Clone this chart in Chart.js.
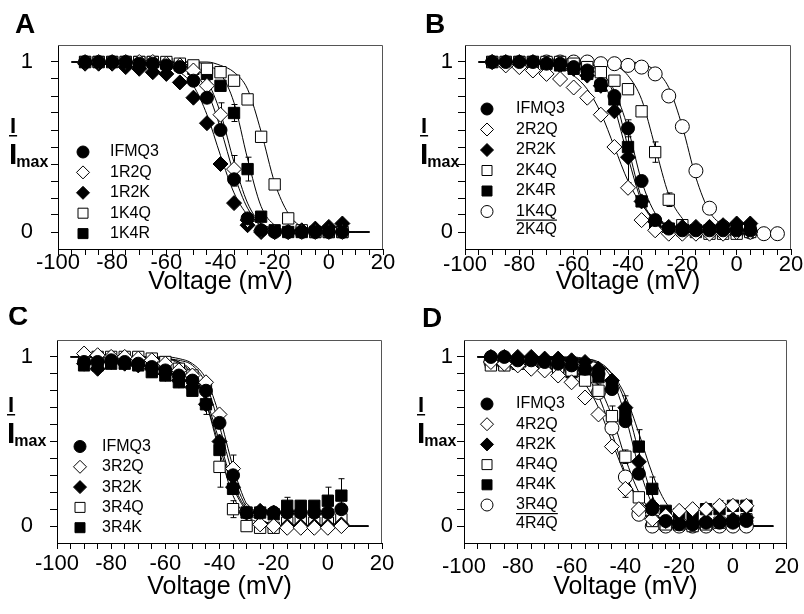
<!DOCTYPE html>
<html>
<head>
<meta charset="utf-8">
<script src="https://cdn.jsdelivr.net/npm/chart.js@4.4.0/dist/chart.umd.min.js"></script>
<style>
  body { margin: 0; background: #fff; }
  #wrap { position: relative; width: 804px; height: 614px; background: #fff; }
  canvas { position: absolute; }
</style>
</head>
<body>
<div id="wrap">
  <canvas id="chartA" width="402" height="307" style="left:0;top:0"></canvas>
  <canvas id="chartB" width="402" height="307" style="left:402px;top:0"></canvas>
  <canvas id="chartC" width="402" height="307" style="left:0;top:307px"></canvas>
  <canvas id="chartD" width="402" height="307" style="left:402px;top:307px"></canvas>
</div>
<script>
// voltage steps of the measured points and of the fitted curves (mV)
const V = [-90, -85, -80, -75, -70, -65, -60, -55, -50, -45, -40, -35, -30, -25, -20, -15, -10, -5, 0, 5];
const FIT_V = [-95, -90, -85, -80, -75, -70, -65, -60, -55, -50, -45, -40, -35, -30, -25, -20, -15, -10, -5, 0, 5, 10, 15];
const B_RATIO_V = [-70, -65, -60, -55, -50, -45, -40, -35, -30, -25, -20, -15, -10, -5, 0, 5, 10, 15];

// panel A
const A_IFMQ3 = [1.0, 1.0, 1.0, 1.0, 0.99, 0.99, 0.98, 0.97, 0.89, 0.79, 0.60, 0.31, 0.08, 0.01, 0.0, 0.0, 0.0, 0.0, 0.0, 0.0];
const A_1R2Q = [1.0, 1.0, 1.0, 1.0, 1.0, 1.0, 0.99, 0.98, 0.95, 0.86, 0.69, 0.37, 0.07, 0.01, 0.0, 0.0, 0.0, 0.0, 0.0, 0.0];
const A_1R2K = [0.99, 0.99, 0.99, 0.97, 0.96, 0.94, 0.93, 0.88, 0.79, 0.64, 0.40, 0.17, 0.04, 0.0, 0.0, 0.0, 0.01, 0.02, 0.03, 0.05];
const A_1K4Q = [1.0, 1.0, 1.0, 1.0, 1.0, 1.0, 1.0, 0.99, 0.98, 0.96, 0.94, 0.89, 0.78, 0.56, 0.28, 0.08, 0.01, 0.0, 0.0, 0.0];
const A_1K4R = [1.0, 1.0, 1.0, 1.0, 1.0, 1.0, 0.99, 0.98, 0.96, 0.93, 0.86, 0.70, 0.37, 0.09, 0.01, 0.0, 0.0, 0.0, 0.0, 0.0];
const A_IFMQ3_ERR = [0, 0, 0, 0, 0, 0, 0, 0, 0, 0, 0, 0.04, 0, 0, 0, 0, 0, 0, 0, 0];
const A_1R2Q_ERR = [0, 0, 0, 0, 0, 0, 0, 0, 0, 0.03, 0.07, 0.08, 0, 0, 0, 0, 0, 0, 0, 0];
const A_1K4R_ERR = [0, 0, 0, 0, 0, 0, 0, 0, 0, 0, 0, 0.05, 0.07, 0, 0, 0, 0, 0, 0, 0];
const A_FIT_IFMQ3 = [1, 1, 1, 1, 1, 1, 1, 1, 0.98, 0.94, 0.83, 0.61, 0.34, 0.14, 0.05, 0.02, 0.01, 0, 0, 0, 0, 0, 0];
const A_FIT_1R2Q = [1, 1, 1, 1, 1, 1, 1, 1, 0.99, 0.97, 0.89, 0.70, 0.41, 0.17, 0.05, 0.02, 0, 0, 0, 0, 0, 0, 0];
const A_FIT_1R2K = [1, 1, 1, 1, 1, 0.99, 0.99, 0.98, 0.94, 0.86, 0.69, 0.45, 0.23, 0.10, 0.04, 0.01, 0, 0, 0, 0, 0, 0, 0];
const A_FIT_1K4Q = [1, 1, 1, 1, 1, 1, 1, 1, 1, 1, 1, 0.98, 0.94, 0.84, 0.59, 0.29, 0.11, 0.03, 0.01, 0, 0, 0, 0];
const A_FIT_1K4R = [1, 1, 1, 1, 1, 1, 1, 1, 1, 1, 0.98, 0.93, 0.76, 0.43, 0.15, 0.04, 0.01, 0, 0, 0, 0, 0, 0];

// panel B
const B_IFMQ3 = [1.0, 1.0, 1.0, 1.0, 0.99, 0.99, 0.97, 0.95, 0.87, 0.80, 0.61, 0.30, 0.07, 0.02, 0.01, 0.01, 0.01, 0.01, 0.01, 0.01];
const B_2R2Q = [1.0, 0.98, 0.97, 0.95, 0.93, 0.90, 0.85, 0.79, 0.69, 0.50, 0.26, 0.07, 0.01, -0.01, -0.01, -0.01, -0.01, -0.01, 0.0, 0.0];
const B_2R2K = [1.0, 1.0, 1.0, 1.0, 0.99, 0.98, 0.96, 0.92, 0.86, 0.71, 0.44, 0.18, 0.06, 0.03, 0.03, 0.03, 0.03, 0.04, 0.05, 0.05];
const B_2K4Q = [1.0, 1.0, 1.0, 1.0, 1.0, 1.0, 0.99, 0.97, 0.94, 0.89, 0.84, 0.71, 0.47, 0.19, 0.04, 0.0, -0.01, -0.01, -0.01, 0.0];
const B_2K4R = [1.0, 1.0, 1.0, 1.0, 0.99, 0.98, 0.96, 0.93, 0.86, 0.78, 0.50, 0.18, 0.05, 0.02, 0.01, 0.01, 0.01, 0.01, 0.01, 0.01];
const B_RATIO = [1.0, 1.0, 1.0, 1.0, 0.99, 0.99, 0.98, 0.97, 0.93, 0.80, 0.62, 0.36, 0.14, 0.03, 0.0, 0.0, -0.01, -0.01];
const B_IFMQ3_ERR = [0, 0, 0, 0, 0, 0, 0, 0, 0, 0, 0.05, 0.03, 0, 0, 0, 0, 0, 0, 0, 0];
const B_2R2K_ERR = [0, 0, 0, 0, 0, 0, 0, 0, 0, 0, 0.15, 0, 0, 0, 0, 0, 0, 0, 0, 0];
const B_2K4Q_ERR = [0, 0, 0, 0, 0, 0, 0, 0, 0, 0, 0, 0, 0.06, 0.04, 0, 0, 0, 0, 0, 0];
const B_FIT_IFMQ3 = [1, 1, 1, 1, 1, 1, 1, 0.99, 0.98, 0.94, 0.83, 0.61, 0.30, 0.11, 0.03, 0.01, 0, 0, 0, 0, 0, 0, 0];
const B_FIT_2R2Q = [1, 1, 1, 1, 0.99, 0.985, 0.97, 0.92, 0.84, 0.70, 0.50, 0.30, 0.16, 0.08, 0.03, 0.01, 0, 0, 0, 0, 0, 0, 0];
const B_FIT_2R2K = [1, 1, 1, 1, 1, 1, 1, 0.99, 0.97, 0.90, 0.73, 0.44, 0.18, 0.06, 0.02, 0, 0, 0, 0, 0, 0, 0, 0];
const B_FIT_2K4Q = [1, 1, 1, 1, 1, 1, 1, 1, 1, 0.99, 0.98, 0.92, 0.78, 0.50, 0.22, 0.08, 0.02, 0.01, 0, 0, 0, 0, 0];
const B_FIT_2K4R = [1, 1, 1, 1, 1, 1, 1, 1, 0.99, 0.95, 0.80, 0.50, 0.20, 0.06, 0.01, 0, 0, 0, 0, 0, 0, 0, 0];
const B_FIT_RATIO = [1, 1, 1, 1, 1, 1, 1, 1, 1, 1, 1, 1, 0.99, 0.95, 0.85, 0.62, 0.32, 0.12, 0.04, 0.01, 0, 0, 0];

// panel C
const C_IFMQ3 = [0.97, 0.97, 0.98, 0.97, 0.96, 0.94, 0.92, 0.89, 0.86, 0.80, 0.61, 0.30, 0.08, 0.08, 0.08, 0.08, 0.08, 0.08, 0.08, 0.10];
const C_3R2Q = [1.02, 1.01, 1.0, 1.0, 0.99, 0.98, 0.96, 0.92, 0.89, 0.85, 0.66, 0.34, 0.09, 0.01, 0.0, -0.01, -0.01, -0.01, -0.01, 0.0];
const C_3R2K = [0.96, 0.93, 0.97, 0.96, 0.95, 0.93, 0.90, 0.86, 0.82, 0.72, 0.50, 0.23, 0.08, 0.09, 0.08, 0.0, 0.0, 0.0, 0.0, 0.01];
const C_3R4Q = [0.99, 1.0, 1.0, 1.0, 1.0, 0.99, 0.97, 0.93, 0.89, 0.82, 0.35, 0.10, 0.0, -0.01, -0.01, 0.02, 0.03, 0.02, 0.02, 0.04];
const C_3R4K = [0.95, 0.95, 0.96, 0.96, 0.95, 0.91, 0.89, 0.85, 0.80, 0.72, 0.45, 0.22, 0.08, 0.08, 0.07, 0.12, 0.12, 0.12, 0.15, 0.18];
const C_3R2Q_ERR = [0, 0, 0, 0, 0, 0, 0, 0, 0, 0, 0, 0.08, 0, 0, 0, 0, 0, 0, 0, 0];
const C_3R2K_ERR = [0, 0, 0, 0, 0, 0, 0, 0, 0, 0.06, 0, 0, 0, 0, 0, 0, 0, 0, 0, 0];
const C_3R4Q_ERR = [0, 0, 0, 0, 0, 0, 0, 0, 0, 0, 0.12, 0.05, 0, 0, 0, 0, 0, 0, 0, 0];
const C_3R4K_ERR = [0, 0, 0, 0, 0, 0.03, 0, 0, 0, 0, 0, 0, 0, 0, 0, 0.05, 0.03, 0, 0.08, 0.10];
const C_FIT_IFMQ3 = [1, 1, 1, 1, 1, 1, 1, 0.99, 0.98, 0.95, 0.84, 0.59, 0.30, 0.11, 0.03, 0.01, 0, 0, 0, 0, 0, 0, 0];
const C_FIT_3R2Q = [1, 1, 1, 1, 1, 1, 1, 1, 0.99, 0.96, 0.87, 0.65, 0.35, 0.13, 0.04, 0.01, 0, 0, 0, 0, 0, 0, 0];
const C_FIT_3R2K = [1, 1, 1, 1, 1, 1, 0.99, 0.99, 0.97, 0.90, 0.75, 0.50, 0.25, 0.10, 0.04, 0.01, 0, 0, 0, 0, 0, 0, 0];
const C_FIT_3R4Q = [1, 1, 1, 1, 1, 1, 0.99, 0.99, 0.97, 0.91, 0.73, 0.44, 0.18, 0.06, 0.02, 0, 0, 0, 0, 0, 0, 0, 0];
const C_FIT_3R4K = [1, 1, 1, 1, 1, 1, 0.99, 0.99, 0.96, 0.89, 0.73, 0.47, 0.23, 0.09, 0.03, 0.01, 0, 0, 0, 0, 0, 0, 0];

// panel D
const D_IFMQ3 = [1.0, 1.0, 0.98, 0.98, 0.97, 0.96, 0.95, 0.93, 0.90, 0.81, 0.62, 0.31, 0.10, 0.03, 0.01, 0.01, 0.02, 0.02, 0.02, 0.03];
const D_4R2Q = [0.97, 0.96, 0.95, 0.93, 0.92, 0.89, 0.85, 0.76, 0.66, 0.47, 0.22, 0.10, 0.04, 0.06, 0.09, 0.10, 0.10, 0.12, 0.12, 0.12];
const D_4R2K = [1.0, 1.0, 1.0, 1.0, 0.99, 0.99, 0.98, 0.97, 0.93, 0.86, 0.70, 0.38, 0.12, 0.03, 0.02, 0.02, 0.03, 0.03, 0.04, 0.05];
const D_4R4Q = [0.95, 0.95, 0.96, 0.96, 0.95, 0.94, 0.92, 0.86, 0.80, 0.65, 0.41, 0.17, 0.03, 0.01, 0.01, 0.0, 0.01, 0.02, 0.03, 0.04];
const D_4R4K = [0.97, 0.96, 0.96, 0.96, 0.95, 0.93, 0.91, 0.89, 0.88, 0.83, 0.67, 0.47, 0.22, 0.09, 0.07, 0.07, 0.10, 0.10, 0.12, 0.12];
const D_RATIO = [0.97, 0.96, 0.96, 0.96, 0.95, 0.94, 0.93, 0.91, 0.79, 0.58, 0.29, 0.07, 0.0, 0.0, 0.0, 0.0, 0.0, 0.0, 0.0, 0.0];
const D_4R2Q_ERR = [0, 0, 0, 0, 0, 0, 0, 0, 0, 0, 0.05, 0, 0, 0, 0, 0, 0, 0.03, 0, 0];
const D_4R2K_ERR = [0, 0, 0, 0, 0, 0, 0, 0, 0, 0, 0.07, 0, 0, 0, 0, 0, 0, 0, 0, 0];
const D_4R4Q_ERR = [0, 0, 0, 0, 0, 0, 0, 0, 0.04, 0.06, 0.04, 0, 0, 0, 0, 0, 0, 0, 0, 0];
const D_4R4K_ERR = [0, 0, 0, 0, 0, 0, 0, 0, 0, 0, 0, 0.10, 0.07, 0, 0, 0, 0.03, 0.04, 0.03, 0.03];
const D_FIT_IFMQ3 = [1, 1, 1, 1, 1, 1, 1, 0.99, 0.99, 0.96, 0.87, 0.65, 0.35, 0.13, 0.04, 0.01, 0, 0, 0, 0, 0, 0, 0];
const D_FIT_4R2Q = [1, 1, 1, 1, 0.99, 0.98, 0.97, 0.92, 0.84, 0.70, 0.50, 0.30, 0.16, 0.08, 0.03, 0.01, 0, 0, 0, 0, 0, 0, 0];
const D_FIT_4R2K = [1, 1, 1, 1, 1, 1, 1, 1, 0.99, 0.97, 0.90, 0.73, 0.44, 0.18, 0.06, 0.02, 0, 0, 0, 0, 0, 0, 0];
const D_FIT_4R4Q = [1, 1, 1, 1, 1, 1, 0.99, 0.97, 0.93, 0.83, 0.65, 0.40, 0.20, 0.08, 0.03, 0.01, 0, 0, 0, 0, 0, 0, 0];
const D_FIT_4R4K = [1, 1, 1, 1, 1, 1, 1, 0.99, 0.98, 0.96, 0.90, 0.77, 0.55, 0.31, 0.14, 0.06, 0.02, 0.01, 0, 0, 0, 0, 0];
const D_FIT_RATIO = [1, 1, 1, 1, 1, 1, 0.99, 0.96, 0.90, 0.77, 0.55, 0.31, 0.14, 0.06, 0.02, 0.01, 0, 0, 0, 0, 0, 0, 0];

const FONT = '"Liberation Sans", Arial, sans-serif';

const MARKERS = {
    fCircle: { pointStyle: 'circle', radius: 6.5, fill: '#000' },
    oCircle: { pointStyle: 'circle', radius: 7, fill: '#fff' },
    fDiamond: { pointStyle: 'rectRot', radius: 7.5, fill: '#000' },
    oDiamond: { pointStyle: 'rectRot', radius: 7.5, fill: '#fff' },
    fSquare: { pointStyle: 'rect', radius: 8, fill: '#000' },
    oSquare: { pointStyle: 'rect', radius: 8, fill: '#fff' },
};

const PANELS = [
    {
        canvas: 'chartA', letter: 'A', letterX: 15, letterY: 33,
        padTop: 45, padRight: 19, yW: 58, xH: 58, xTickPad: -5, yTickPad: 18, titlePad: 10,
        ylab: { x: 10, y: 133 },
        legend: { mx: 83, tx: 110, y0: 152, dy: 20.4 },
        series: [
            { label: 'IFMQ3', marker: 'fCircle', x: V, y: A_IFMQ3, err: A_IFMQ3_ERR, fit: A_FIT_IFMQ3 },
            { label: '1R2Q', marker: 'oDiamond', x: V, y: A_1R2Q, err: A_1R2Q_ERR, fit: A_FIT_1R2Q },
            { label: '1R2K', marker: 'fDiamond', x: V, y: A_1R2K, fit: A_FIT_1R2K },
            { label: '1K4Q', marker: 'oSquare', x: V, y: A_1K4Q, fit: A_FIT_1K4Q },
            { label: '1K4R', marker: 'fSquare', x: V, y: A_1K4R, err: A_1K4R_ERR, fit: A_FIT_1K4R },
        ],
    },
    {
        canvas: 'chartB', letter: 'B', letterX: 23, letterY: 33,
        padTop: 45, padRight: 13, yW: 63, xH: 58, xTickPad: -3, yTickPad: 5, titlePad: 10,
        ylab: { x: 19, y: 133 },
        legend: { mx: 85, tx: 114, y0: 109, dy: 20.5 },
        series: [
            { label: 'IFMQ3', marker: 'fCircle', x: V, y: B_IFMQ3, err: B_IFMQ3_ERR, fit: B_FIT_IFMQ3 },
            { label: '2R2Q', marker: 'oDiamond', x: V, y: B_2R2Q, fit: B_FIT_2R2Q },
            { label: '2R2K', marker: 'fDiamond', x: V, y: B_2R2K, err: B_2R2K_ERR, fit: B_FIT_2R2K },
            { label: '2K4Q', marker: 'oSquare', x: V, y: B_2K4Q, err: B_2K4Q_ERR, fit: B_FIT_2K4Q },
            { label: '2K4R', marker: 'fSquare', x: V, y: B_2K4R, fit: B_FIT_2K4R },
            { label: ['1K4Q', '2K4Q'], marker: 'oCircle', x: B_RATIO_V, y: B_RATIO, fit: B_FIT_RATIO },
        ],
    },
    {
        canvas: 'chartC', letter: 'C', letterX: 8, letterY: 18,
        padTop: 33, padRight: 20, yW: 57, xH: 71, xTickPad: 2, yTickPad: 17, titlePad: 12,
        ylab: { x: 8, y: 105 },
        legend: { mx: 80, tx: 102, y0: 139.5, dy: 20.3 },
        series: [
            { label: 'IFMQ3', marker: 'fCircle', x: V, y: C_IFMQ3, fit: C_FIT_IFMQ3 },
            { label: '3R2Q', marker: 'oDiamond', x: V, y: C_3R2Q, err: C_3R2Q_ERR, fit: C_FIT_3R2Q },
            { label: '3R2K', marker: 'fDiamond', x: V, y: C_3R2K, err: C_3R2K_ERR, fit: C_FIT_3R2K },
            { label: '3R4Q', marker: 'oSquare', x: V, y: C_3R4Q, err: C_3R4Q_ERR, fit: C_FIT_3R4Q },
            { label: '3R4K', marker: 'fSquare', x: V, y: C_3R4K, err: C_3R4K_ERR, fit: C_FIT_3R4K },
        ],
    },
    {
        canvas: 'chartD', letter: 'D', letterX: 20, letterY: 20,
        padTop: 33, padRight: 15, yW: 62, xH: 71, xTickPad: 5, yTickPad: 4, titlePad: 12,
        ylab: { x: 16, y: 105 },
        legend: { mx: 85, tx: 114, y0: 97, dy: 20.2 },
        series: [
            { label: 'IFMQ3', marker: 'fCircle', x: V, y: D_IFMQ3, fit: D_FIT_IFMQ3 },
            { label: '4R2Q', marker: 'oDiamond', x: V, y: D_4R2Q, err: D_4R2Q_ERR, fit: D_FIT_4R2Q },
            { label: '4R2K', marker: 'fDiamond', x: V, y: D_4R2K, err: D_4R2K_ERR, fit: D_FIT_4R2K },
            { label: '4R4Q', marker: 'oSquare', x: V, y: D_4R4Q, err: D_4R4Q_ERR, fit: D_FIT_4R4Q },
            { label: '4R4K', marker: 'fSquare', x: V, y: D_4R4K, err: D_4R4K_ERR, fit: D_FIT_4R4K },
            { label: ['3R4Q', '4R4Q'], marker: 'oCircle', x: V, y: D_RATIO, fit: D_FIT_RATIO },
        ],
    },
];

function drawMarker(ctx, m, x, y, r) {
    ctx.beginPath();
    if (m.pointStyle === 'circle') {
        ctx.arc(x, y, r, 0, Math.PI * 2);
    } else if (m.pointStyle === 'rectRot') {
        ctx.moveTo(x, y - r); ctx.lineTo(x + r, y); ctx.lineTo(x, y + r); ctx.lineTo(x - r, y); ctx.closePath();
    } else {
        ctx.rect(x - r, y - r, 2 * r, 2 * r);
    }
    ctx.fillStyle = m.fill;
    ctx.fill();
    ctx.lineWidth = 1;
    ctx.strokeStyle = '#000';
    ctx.stroke();
}

const errorBars = {
    id: 'errorBars',
    beforeDatasetsDraw(chart) {
        const ctx = chart.ctx, xs = chart.scales.x, ys = chart.scales.y;
        ctx.save();
        ctx.strokeStyle = '#000';
        ctx.lineWidth = 1;
        chart.data.datasets.forEach(ds => {
            if (!ds.errors) return;
            ds.data.forEach((p, i) => {
                const e = ds.errors[i];
                if (!e) return;
                const px = Math.round(xs.getPixelForValue(p.x)) + 0.5;
                const top = ys.getPixelForValue(p.y + e), bot = ys.getPixelForValue(p.y - e);
                ctx.beginPath();
                ctx.moveTo(px, top); ctx.lineTo(px, bot);
                ctx.moveTo(px - 3, top); ctx.lineTo(px + 3, top);
                ctx.moveTo(px - 3, bot); ctx.lineTo(px + 3, bot);
                ctx.stroke();
            });
        });
        ctx.restore();
    }
};

function decor(p) {
    return {
        id: 'decor',
        afterDraw(chart) {
            const ctx = chart.ctx, a = chart.chartArea;
            ctx.save();
            // frame top and right
            ctx.strokeStyle = '#555';
            ctx.lineWidth = 1;
            ctx.beginPath();
            ctx.moveTo(a.left, Math.round(a.top) + 0.5);
            ctx.lineTo(Math.round(a.right) - 0.5, Math.round(a.top) + 0.5);
            ctx.lineTo(Math.round(a.right) - 0.5, a.bottom);
            ctx.stroke();

            ctx.fillStyle = '#000';
            // panel letter
            ctx.font = 'bold 28px ' + FONT;
            ctx.textBaseline = 'alphabetic';
            ctx.textAlign = 'left';
            ctx.fillText(p.letter, p.letterX, p.letterY);

            // y label: I over I_max
            const yl = p.ylab;
            ctx.font = 'bold 22px ' + FONT;
            ctx.fillText('I', yl.x, yl.y);
            const w1 = ctx.measureText('I').width;
            ctx.fillRect(yl.x - 1, yl.y + 2, w1 + 2, 1.5);
            ctx.font = 'bold 30px ' + FONT;
            ctx.fillText('I', yl.x - 1, yl.y + 31);
            const w2 = ctx.measureText('I').width;
            ctx.font = 'bold 16px ' + FONT;
            ctx.fillText('max', yl.x - 1 + w2 - 1, yl.y + 34);

            // legend
            const lg = p.legend;
            ctx.font = '16px ' + FONT;
            ctx.textBaseline = 'middle';
            p.series.forEach((s, i) => {
                const y = lg.y0 + i * lg.dy;
                const m = MARKERS[s.marker];
                drawMarker(ctx, m, lg.mx, y, m.pointStyle === 'rect' ? 5 : m.pointStyle === 'rectRot' ? 6.5 : 6);
                ctx.fillStyle = '#000';
                if (Array.isArray(s.label)) {
                    ctx.fillText(s.label[0], lg.tx, y);
                    const w = ctx.measureText(s.label[0]).width;
                    ctx.fillRect(lg.tx, y + 8, w, 1.2);
                    ctx.fillText(s.label[1], lg.tx, y + 18.5);
                } else {
                    ctx.fillText(s.label, lg.tx, y);
                }
            });
            ctx.restore();
        }
    };
}

function makeChart(p) {
    const markerSets = p.series.map(s => {
        const m = MARKERS[s.marker];
        return {
            label: Array.isArray(s.label) ? s.label.join('/') : s.label,
            data: s.x.map((x, i) => ({ x, y: s.y[i] })),
            errors: s.err || null,
            showLine: false,
            pointStyle: m.pointStyle,
            pointRadius: m.radius,
            pointHoverRadius: m.radius,
            pointBackgroundColor: m.fill,
            pointBorderColor: '#000',
            pointBorderWidth: 1,
        };
    });
    const fitSets = p.series.map(s => ({
        label: 'fit',
        data: FIT_V.map((x, i) => ({ x, y: s.fit[i] })),
        showLine: true,
        pointRadius: 0,
        borderColor: '#000',
        borderWidth: 1,
        cubicInterpolationMode: 'monotone',
        fill: false,
    }));

    new Chart(document.getElementById(p.canvas), {
        type: 'scatter',
        data: { datasets: markerSets.concat(fitSets) },
        options: {
            responsive: false,
            animation: false,
            events: [],
            layout: { padding: { left: 0, top: p.padTop, right: p.padRight, bottom: 0 } },
            plugins: { legend: { display: false }, tooltip: { enabled: false } },
            scales: {
                x: {
                    type: 'linear', min: -100, max: 20,
                    afterFit: s => { s.height = p.xH; },
                    ticks: {
                        stepSize: 5, autoSkip: false, maxRotation: 0, padding: p.xTickPad, color: '#000',
                        font: { family: FONT, size: 22 },
                        callback: v => (v % 20 === 0 ? String(v) : ''),
                    },
                    grid: { drawOnChartArea: false, tickLength: 6, color: '#000' },
                    border: { color: '#000', width: 1 },
                    title: {
                        display: true, text: 'Voltage (mV)', color: '#000',
                        font: { family: FONT, size: 25 }, padding: { top: 0, bottom: p.titlePad },
                    },
                },
                y: {
                    type: 'linear', min: -0.1, max: 1.1,
                    afterFit: s => { s.width = p.yW; },
                    ticks: {
                        stepSize: 0.1, autoSkip: false, padding: p.yTickPad, color: '#000',
                        font: { family: FONT, size: 22 },
                        callback: v => (Math.abs(v - 1) < 1e-6 ? '1' : Math.abs(v) < 1e-6 ? '0' : ''),
                    },
                    grid: {
                        drawOnChartArea: false, tickLength: 7,
                        color: c => (c.tick && (c.tick.value < -0.05 || c.tick.value > 1.05) ? 'rgba(0,0,0,0)' : '#000'),
                    },
                    border: { color: '#000', width: 1 },
                },
            },
        },
        plugins: [errorBars, decor(p)],
    });
}

PANELS.forEach(makeChart);
</script>
</body>
</html>
